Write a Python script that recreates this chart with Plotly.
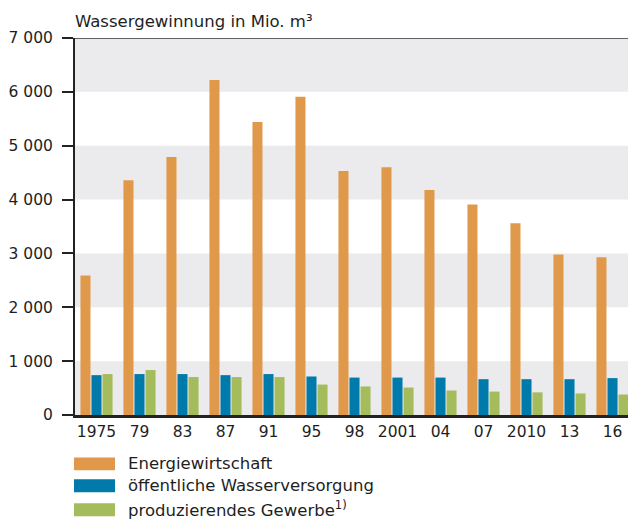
import plotly.graph_objects as go

# ---- data ----
years = ["1975", "79", "83", "87", "91", "95", "98", "2001", "04", "07", "2010", "13", "16"]
energiewirtschaft = [2590, 4360, 4790, 6220, 5440, 5910, 4530, 4600, 4180, 3910, 3560, 2980, 2930]
oeffentliche_wv = [740, 760, 760, 740, 760, 715, 695, 695, 695, 665, 665, 665, 685]
produz_gewerbe = [760, 835, 705, 705, 705, 565, 530, 510, 455, 435, 420, 400, 380]
series_names = ["Energiewirtschaft", "öffentliche Wasserversorgung", "produzierendes Gewerbe<sup>1)</sup>"]
y_tickvals = [0, 1000, 2000, 3000, 4000, 5000, 6000, 7000]
y_ticktext = ["0", "1 000", "2 000", "3 000", "4 000", "5 000", "6 000", "7 000"]
title_text = "Wassergewinnung in Mio. m³"

# ---- style ----
W, H = 628, 519
ML, MR, MT, MB = 75, 0, 37.5, 103.5
colors = ["#E0994B", "#007AAA", "#A5BC5D"]
band_color = "#EBEBEE"
ink = "#1e1e1e"
FONT = "DejaVu Sans"
pw, ph = W - ML - MR, H - MT - MB

def px_x(x):
    return (x - ML) / pw

def px_y(y):
    return (H - MB - y) / ph

fig = go.Figure()
for name, vals, c in zip(series_names, [energiewirtschaft, oeffentliche_wv, produz_gewerbe], colors):
    fig.add_trace(go.Bar(x=years, y=vals, name=name, marker=dict(color=c, line=dict(width=0)),
                         showlegend=False, hoverinfo="x+y"))

shapes = []
for lo in range(0, 7000, 2000):
    shapes.append(dict(type="rect", xref="paper", yref="y", x0=0, x1=1, y0=lo, y1=lo + 1000,
                       fillcolor=band_color, line=dict(width=0), layer="below"))
# top border line at max value
shapes.append(dict(type="line", xref="paper", yref="y", x0=0, x1=1, y0=7000, y1=7000,
                   line=dict(color="#333", width=1.5), layer="above"))

# manual legend
legend_rows = [(458, 471), (480, 493), (504, 517)]
text_centers = [464.5, 486.5, 509.5]
annotations = []
for (top, bot), tc, c, name in zip(legend_rows, text_centers, colors, series_names):
    shapes.append(dict(type="rect", xref="paper", yref="paper", x0=px_x(74), x1=px_x(115),
                       y0=px_y(bot), y1=px_y(top), fillcolor=c, line=dict(width=0)))
    annotations.append(dict(xref="paper", yref="paper", x=px_x(126), y=px_y(tc),
                            xanchor="left", yanchor="middle", text=name, showarrow=False,
                            font=dict(family=FONT, size=16.5, color=ink)))

annotations.append(dict(xref="paper", yref="paper", x=px_x(73), y=px_y(21), xanchor="left",
                        yanchor="middle", text=title_text, showarrow=False,
                        font=dict(family=FONT, size=16.5, color=ink)))

fig.update_layout(
    width=W, height=H,
    margin=dict(l=ML, r=MR, t=MT, b=MB, pad=0),
    paper_bgcolor="white", plot_bgcolor="white",
    barmode="group", bargap=0.23, bargroupgap=0.09,
    shapes=shapes, annotations=annotations,
    font=dict(family=FONT, size=15, color=ink),
    xaxis=dict(range=[-0.5, -0.5 + pw / 43.0], showgrid=False, showline=True, linecolor="#222",
               linewidth=3, ticks="", tickfont=dict(size=15.5, color=ink), fixedrange=True),
    yaxis=dict(range=[0, 7000], tickvals=y_tickvals, ticktext=y_ticktext, showgrid=False,
               zeroline=False, showline=True, linecolor="#222", linewidth=2, ticks="outside",
               ticklen=11, tickwidth=2, tickcolor="#222", tickfont=dict(size=15.5, color=ink),
               ticklabelstandoff=6, fixedrange=True),
    showlegend=False,
)

fig.write_html("out.html", config={"displayModeBar": False},
               post_script="document.body.style.margin='0';document.body.style.overflow='hidden';")
